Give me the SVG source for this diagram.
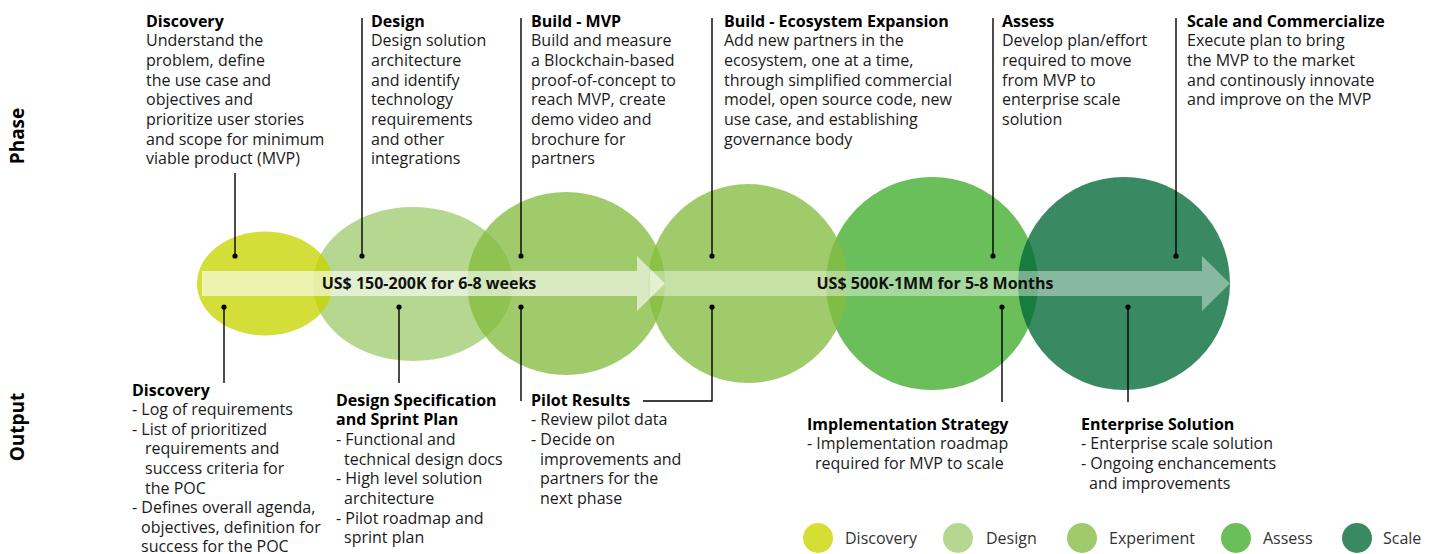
<svg xmlns="http://www.w3.org/2000/svg" width="1436" height="554" viewBox="0 0 1436 554">
<style>
text { font-family: "Open Sans", "Liberation Sans", sans-serif; font-size: 16px; fill: #1a1a1a; }
.t { font-weight: 700; fill: #000; }
.lbl { font-weight: 700; fill: #111; text-anchor: middle; }
.side { font-weight: 700; fill: #000; text-anchor: middle; font-size: 19px; }
.c { fill-opacity: 0.78; }
.ln { stroke: #000; stroke-width: 1.4; fill: none; }
.dot { fill: #000; }
.lg { fill: #333; }
</style>
<rect width="1436" height="554" fill="#fff"/>
<g id="circles">
  <ellipse id="c-design" class="c" cx="413" cy="284" rx="100" ry="77" fill="#A2CC70"/>
  <ellipse id="c-assess" class="c" cx="932" cy="283.5" rx="106" ry="106.5" fill="#40AD2B"/>
  <ellipse id="c-discovery" class="c" cx="265" cy="283.5" rx="68" ry="52" fill="#C8D500"/>
  <ellipse id="c-exp1" class="c" cx="566" cy="283.5" rx="99" ry="91.5" fill="#85BC40"/>
  <ellipse id="c-exp2" class="c" cx="748" cy="283.5" rx="100" ry="99.5" fill="#85BC40"/>
  <ellipse id="c-scale" class="c" cx="1124" cy="283.5" rx="106" ry="106.5" fill="#016936"/>
</g>
<g id="arrows">
  <path id="arrow1" d="M202,271 H637 V256 L665,283.5 L637,311 V296 H202 Z" fill="#fff" fill-opacity="0.6"/>
  <path id="arrow2" d="M650,271 H1202 V256 L1230,283.5 L1202,311 V296 H650 Z" fill="#fff" fill-opacity="0.4"/>
  <text class="lbl" x="429" y="289">US$ 150-200K for 6-8 weeks</text>
  <text class="lbl" x="935" y="289">US$ 500K-1MM for 5-8 Months</text>
</g>
<g id="connectors">
  <line class="ln" x1="235" y1="173" x2="235" y2="256"/>
  <line class="ln" x1="362" y1="18" x2="362" y2="256"/>
  <line class="ln" x1="521" y1="18" x2="521" y2="256"/>
  <line class="ln" x1="712" y1="18" x2="712" y2="256"/>
  <line class="ln" x1="993" y1="18" x2="993" y2="256"/>
  <line class="ln" x1="1176" y1="18" x2="1176" y2="256"/>
  <line class="ln" x1="224" y1="307" x2="224" y2="383"/>
  <line class="ln" x1="399" y1="307" x2="399" y2="383"/>
  <line class="ln" x1="521" y1="307" x2="521" y2="401"/>
  <polyline class="ln" points="712,307 712,401 643,401"/>
  <line class="ln" x1="1002" y1="307" x2="1002" y2="402"/>
  <line class="ln" x1="1128" y1="307" x2="1128" y2="402"/>
  <circle class="dot" cx="235" cy="256" r="2.6"/>
  <circle class="dot" cx="362" cy="256" r="2.6"/>
  <circle class="dot" cx="521" cy="256" r="2.6"/>
  <circle class="dot" cx="712" cy="256" r="2.6"/>
  <circle class="dot" cx="993" cy="256" r="2.6"/>
  <circle class="dot" cx="1176" cy="256" r="2.6"/>
  <circle class="dot" cx="224" cy="307" r="2.6"/>
  <circle class="dot" cx="399" cy="307" r="2.6"/>
  <circle class="dot" cx="521" cy="307" r="2.6"/>
  <circle class="dot" cx="712" cy="307" r="2.6"/>
  <circle class="dot" cx="1002" cy="307" r="2.6"/>
  <circle class="dot" cx="1128" cy="307" r="2.6"/>
</g>
<g id="side-labels">
  <text class="side" transform="translate(24,136) rotate(-90)">Phase</text>
  <text class="side" transform="translate(24,427) rotate(-90)">Output</text>
</g>
<g id="phase-discovery">
  <text class="t" x="146" y="26.5">Discovery</text>
  <text x="146" y="46.2">Understand the</text>
  <text x="146" y="65.9">problem, define</text>
  <text x="146" y="85.6">the use case and</text>
  <text x="146" y="105.3">objectives and</text>
  <text x="146" y="125">prioritize user stories</text>
  <text x="146" y="144.7">and scope for minimum</text>
  <text x="146" y="164.4">viable product (MVP)</text>
</g>
<g id="phase-design">
  <text class="t" x="371" y="26.5">Design</text>
  <text x="371" y="46.2">Design solution</text>
  <text x="371" y="65.9">architecture</text>
  <text x="371" y="85.6">and identify</text>
  <text x="371" y="105.3">technology</text>
  <text x="371" y="125">requirements</text>
  <text x="371" y="144.7">and other</text>
  <text x="371" y="164.4">integrations</text>
</g>
<g id="phase-build-mvp">
  <text class="t" x="531" y="26.5">Build - MVP</text>
  <text x="531" y="46.2">Build and measure</text>
  <text x="531" y="65.9">a Blockchain-based</text>
  <text x="531" y="85.6">proof-of-concept to</text>
  <text x="531" y="105.3">reach MVP, create</text>
  <text x="531" y="125">demo video and</text>
  <text x="531" y="144.7">brochure for</text>
  <text x="531" y="164.4">partners</text>
</g>
<g id="phase-build-ecosystem">
  <text class="t" x="724" y="26.5">Build - Ecosystem Expansion</text>
  <text x="724" y="46.2">Add new partners in the</text>
  <text x="724" y="65.9">ecosystem, one at a time,</text>
  <text x="724" y="85.6">through simplified commercial</text>
  <text x="724" y="105.3">model, open source code, new</text>
  <text x="724" y="125">use case, and establishing</text>
  <text x="724" y="144.7">governance body</text>
</g>
<g id="phase-assess">
  <text class="t" x="1002" y="26.5">Assess</text>
  <text x="1002" y="46.2">Develop plan/effort</text>
  <text x="1002" y="65.9">required to move</text>
  <text x="1002" y="85.6">from MVP to</text>
  <text x="1002" y="105.3">enterprise scale</text>
  <text x="1002" y="125">solution</text>
</g>
<g id="phase-scale">
  <text class="t" x="1187" y="26.5">Scale and Commercialize</text>
  <text x="1187" y="46.2">Execute plan to bring</text>
  <text x="1187" y="65.9">the MVP to the market</text>
  <text x="1187" y="85.6">and continously innovate</text>
  <text x="1187" y="105.3">and improve on the MVP</text>
</g>
<g id="output-discovery">
  <text class="t" x="132" y="395.5">Discovery</text>
  <text x="132" y="415.1">- Log of requirements</text>
  <text x="132" y="434.7">- List of prioritized</text>
  <text x="145" y="454.3">requirements and</text>
  <text x="145" y="473.9">success criteria for</text>
  <text x="145" y="493.5">the POC</text>
  <text x="132" y="513.1">- Defines overall agenda,</text>
  <text x="141" y="532.7">objectives, definition for</text>
  <text x="141" y="552.3">success for the POC</text>
</g>
<g id="output-design">
  <text class="t" x="336" y="405.5">Design Specification</text>
  <text class="t" x="336" y="425.2">and Sprint Plan</text>
  <text x="336" y="444.9">- Functional and</text>
  <text x="344" y="464.6">technical design docs</text>
  <text x="336" y="484.3">- High level solution</text>
  <text x="344" y="504">architecture</text>
  <text x="336" y="523.7">- Pilot roadmap and</text>
  <text x="344" y="543.4">sprint plan</text>
</g>
<g id="output-pilot">
  <text class="t" x="531" y="405.5">Pilot Results</text>
  <text x="531" y="425.2">- Review pilot data</text>
  <text x="531" y="444.9">- Decide on</text>
  <text x="540" y="464.6">improvements and</text>
  <text x="540" y="484.3">partners for the</text>
  <text x="540" y="504">next phase</text>
</g>
<g id="output-implementation">
  <text class="t" x="807" y="429.5">Implementation Strategy</text>
  <text x="807" y="449.2">- Implementation roadmap</text>
  <text x="815" y="468.9">required for MVP to scale</text>
</g>
<g id="output-enterprise">
  <text class="t" x="1081" y="429.5">Enterprise Solution</text>
  <text x="1081" y="449.2">- Enterprise scale solution</text>
  <text x="1081" y="468.9">- Ongoing enchancements</text>
  <text x="1089" y="488.6">and improvements</text>
</g>
<g id="legend">
  <circle cx="818" cy="538" r="15" fill="#D4DE35"/>
  <text class="lg" x="845" y="543.5">Discovery</text>
  <circle cx="958" cy="538" r="15" fill="#B6D78F"/>
  <text class="lg" x="986" y="543.5">Design</text>
  <circle cx="1082" cy="538" r="15" fill="#A0CB6A"/>
  <text class="lg" x="1109" y="543.5">Experiment</text>
  <circle cx="1236" cy="538" r="15" fill="#6ABF5A"/>
  <text class="lg" x="1263" y="543.5">Assess</text>
  <circle cx="1357" cy="538" r="15" fill="#398A62"/>
  <text class="lg" x="1383" y="543.5">Scale</text>
</g>
</svg>
